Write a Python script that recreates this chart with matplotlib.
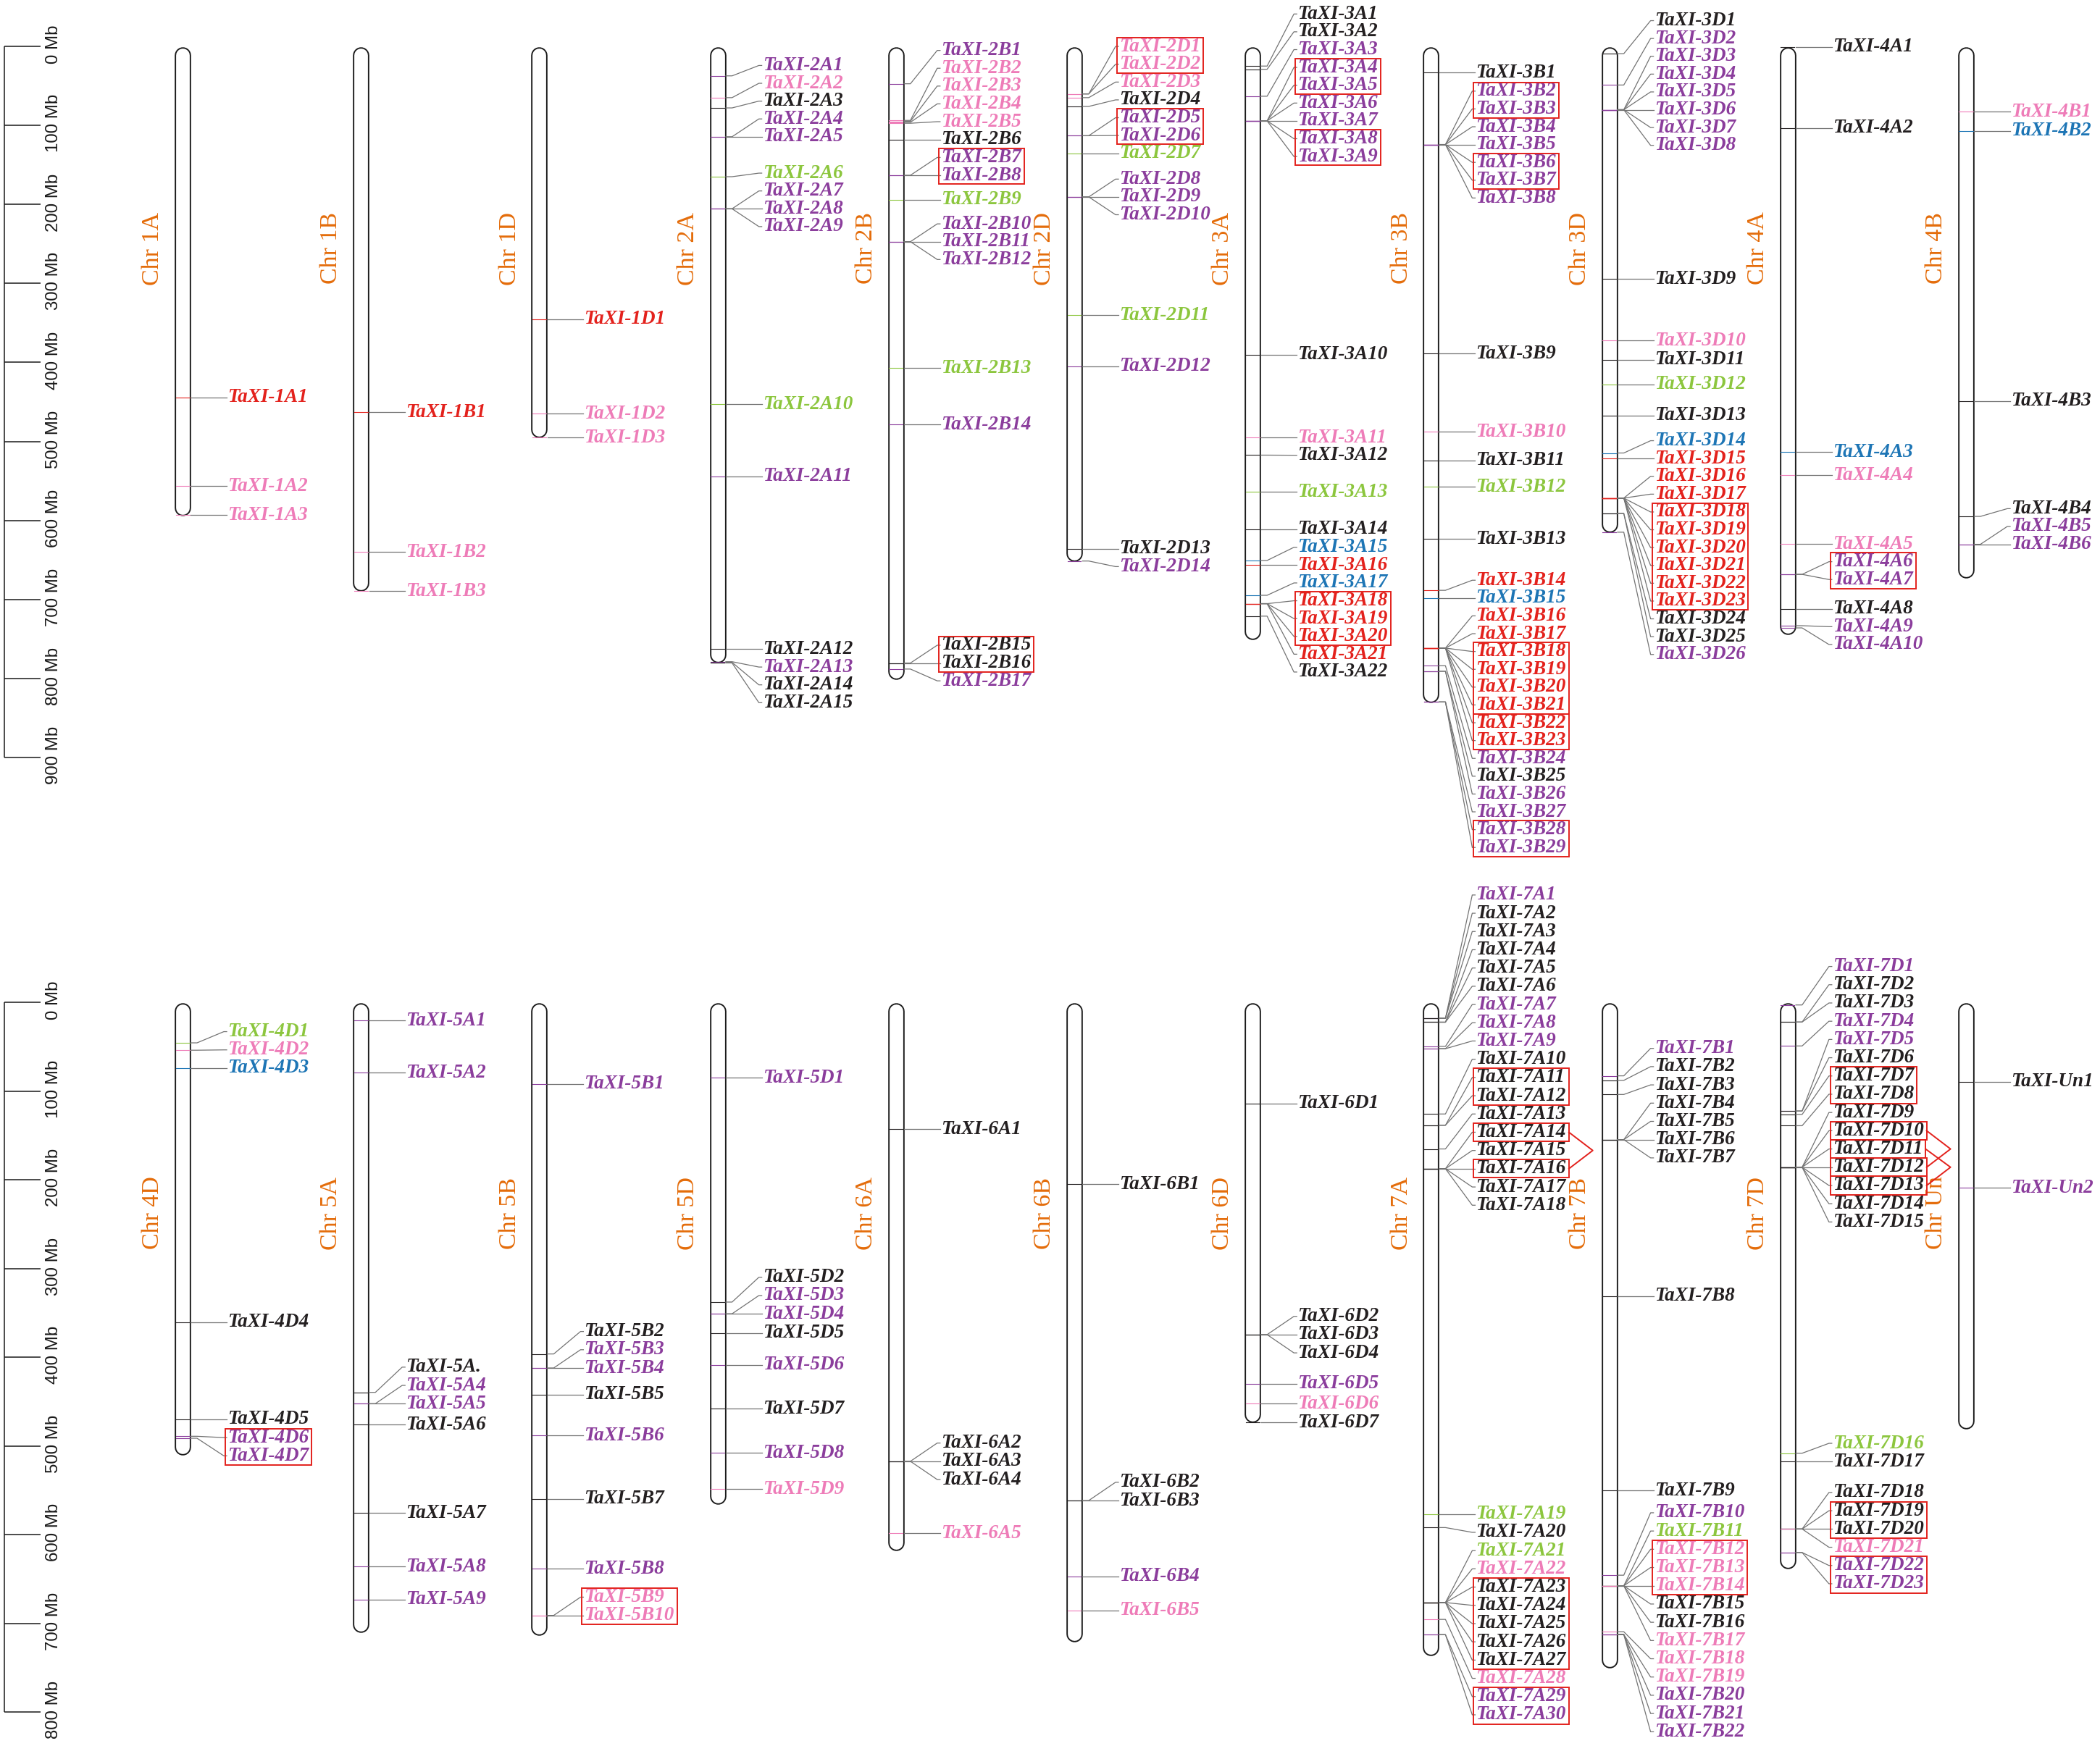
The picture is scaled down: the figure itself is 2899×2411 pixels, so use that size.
import matplotlib
matplotlib.use("Agg")
import matplotlib.pyplot as plt
from matplotlib.patches import Rectangle

# ---------------- chromosomes (Mb) ----------------
top_chr = ["1A", "1B", "1D", "2A", "2B", "2D", "3A", "3B", "3D", "4A", "4B"]
top_len = [594.1, 689.9, 495.5, 780.8, 801.3, 651.9, 750.8, 830.8, 615.6, 744.6, 673.6]
bot_chr = ["4D", "5A", "5B", "5D", "6A", "6B", "6D", "7A", "7B", "7D", "Un"]
bot_len = [509.9, 709.8, 713.1, 566.1, 618.1, 720.9, 473.6, 736.7, 750.6, 638.7, 481.0]
top_ticks = [0, 100, 200, 300, 400, 500, 600, 700, 800, 900]
bot_ticks = [0, 100, 200, 300, 400, 500, 600, 700, 800]

# ---------------- genes: position (Mb) + colour code ----------------
# R red, P pink, U purple, K black, G green, B blue
pos_1A = [444.2, 556.7, 593.5]
col_1A = "RPP"
pos_1B = [462.9, 640.3, 689.4]
col_1B = "RPP"
pos_1D = [345.2, 464.8, 495.0]
col_1D = "RPP"
pos_2A = [37.1, 64.7, 77.7, 114.2, 114.2, 164.8, 205.4, 205.4, 205.4, 453.0, 544.3,
          763.2, 779.0, 779.8, 780.6]
col_2A = "UPKUUGUUUGUKUKK"
pos_2B = [47.1, 93.5, 94.7, 95.9, 97.1, 117.7, 163.0, 163.0, 194.1, 247.1, 247.1, 247.1,
          407.1, 478.9, 780.7, 780.7, 788.3]
col_2B = "UPPPPKUUGUUUGUKKU"
pos_2D = [60.0, 60.0, 64.7, 75.8, 112.9, 112.9, 135.2, 190.4, 190.4, 190.4, 340.3, 405.0,
          636.0, 651.5]
col_2D = "PPPKUUGUUUGUKU"
pos_3A = [24.7, 28.8, 62.9, 94.1, 94.1, 94.1, 94.1, 94.1, 94.1, 390.4, 495.0, 517.4, 563.8,
          611.4, 650.8, 656.7, 694.9, 705.5, 705.5, 705.5, 705.5, 721.3]
col_3A = "KKUUUUUUUKPKGKBRBRRRRK"
pos_3B = [32.8, 124.1, 124.1, 124.1, 124.1, 124.1, 124.1, 124.1, 388.9, 487.9, 524.1, 557.6,
          623.8, 688.6, 698.4, 761.8, 761.8, 761.8, 761.8, 761.8, 761.8, 761.8, 761.8,
          784.1, 791.1, 791.1, 830.0, 830.0, 830.0]
col_3B = "KUUUUUUUKPKGKRBRRRRRRRRUKUUUU"
pos_3D = [9.0, 48.7, 80.0, 80.0, 80.0, 80.0, 80.0, 80.0, 294.2, 372.1, 396.5, 427.8, 467.4,
          514.7, 521.7, 571.8, 571.8, 571.8, 571.8, 571.8, 571.8, 571.8, 571.8,
          591.3, 591.3, 615.0]
col_3D = "KUUUUUUUKPKGKBRRRRRRRRRKKU"
pos_4A = [0.5, 103.0, 513.4, 543.0, 629.8, 668.4, 668.4, 712.1, 733.4, 736.2]
col_4A = "KKBPPUUKUU"
pos_4B = [82.5, 106.6, 449.0, 595.0, 630.3, 630.3]
col_4B = "PBKKUU"
pos_4D = [45.5, 53.8, 74.0, 360.5, 469.9, 489.0, 491.2]
col_4D = "GPBKKUU"
pos_5A = [20.2, 79.0, 439.5, 452.2, 452.2, 475.7, 575.5, 635.7, 673.1]
col_5A = "UUKUUKKUU"
pos_5B = [91.9, 396.2, 412.0, 412.0, 441.8, 488.1, 559.7, 638.3, 690.9, 690.9]
col_5B = "UKUUKUKUPP"
pos_5D = [84.8, 337.7, 350.9, 350.9, 372.6, 408.4, 457.8, 507.7, 548.7]
col_5D = "UKUUKUKUP"
pos_6A = [142.7, 517.2, 517.2, 517.2, 598.2]
col_6A = "KKKKP"
pos_6B = [204.9, 561.4, 561.4, 646.7, 685.3]
col_6B = "KKKUP"
pos_6D = [114.0, 374.4, 374.4, 374.4, 429.6, 452.2, 473.3]
col_6D = "KKKKUPK"
pos_7A = [17.8, 17.8, 17.8, 22.2, 22.2, 22.2, 49.5, 52.1, 52.1, 125.7, 138.4, 138.4, 165.1,
          187.4, 187.4, 187.4, 187.4, 187.4, 576.7, 591.9, 676.4, 676.4, 676.4, 676.4,
          676.4, 676.4, 676.4, 695.4, 712.6, 712.6]
col_7A = "UKKKKKUUUKKKKKKKKKGKGPKKKKKPUU"
pos_7B = [82.7, 87.8, 103.7, 154.6, 154.6, 154.6, 154.6, 330.8, 550.2, 645.6, 657.5, 657.5,
          657.5, 657.5, 657.5, 657.5, 657.5, 709.3, 712.4, 712.4, 712.4, 712.4]
col_7B = "UKKKKKKKKUGPPPKKPPPUUU"
pos_7D = [2.8, 22.0, 22.0, 49.0, 122.3, 122.3, 126.2, 138.9, 185.7, 185.7, 185.7, 185.7,
          185.7, 185.7, 185.7, 508.1, 517.5, 593.5, 593.5, 593.5, 593.5, 620.0, 620.0]
col_7D = "UKKUUKKKKKKKKKKGKKKKPUU"
pos_Un = [89.4, 209.1]
col_Un = "KU"

label_fix = {"5A3": "TaXI-5A."}

boxes = [["2B7", "2B8"], ["2B15", "2B16"], ["2D1", "2D2"], ["2D5", "2D6"],
         ["3A4", "3A5"], ["3A8", "3A9"], ["3A18", "3A19", "3A20"],
         ["3B2", "3B3"], ["3B6", "3B7"], ["3B18", "3B19", "3B20", "3B21"],
         ["3B22", "3B23"], ["3B28", "3B29"],
         ["3D18", "3D19", "3D20", "3D21", "3D22", "3D23"], ["4A6", "4A7"],
         ["4D6", "4D7"], ["5B9", "5B10"], ["7A11", "7A12"], ["7A14"], ["7A16"],
         ["7A23", "7A24", "7A25", "7A26", "7A27"], ["7A29", "7A30"],
         ["7B12", "7B13", "7B14"], ["7D7", "7D8"], ["7D10"], ["7D11"], ["7D12"],
         ["7D13"], ["7D19", "7D20"], ["7D22", "7D23"]]
arrows = [("7A14", "7A16"), ("7D10", "7D12"), ("7D11", "7D13")]

genes = {
    "1A": (pos_1A, col_1A), "1B": (pos_1B, col_1B), "1D": (pos_1D, col_1D),
    "2A": (pos_2A, col_2A), "2B": (pos_2B, col_2B), "2D": (pos_2D, col_2D),
    "3A": (pos_3A, col_3A), "3B": (pos_3B, col_3B), "3D": (pos_3D, col_3D),
    "4A": (pos_4A, col_4A), "4B": (pos_4B, col_4B), "4D": (pos_4D, col_4D),
    "5A": (pos_5A, col_5A), "5B": (pos_5B, col_5B), "5D": (pos_5D, col_5D),
    "6A": (pos_6A, col_6A), "6B": (pos_6B, col_6B), "6D": (pos_6D, col_6D),
    "7A": (pos_7A, col_7A), "7B": (pos_7B, col_7B), "7D": (pos_7D, col_7D),
    "Un": (pos_Un, col_Un),
}

palette = {"R": "#E3211C", "P": "#EE7CB8", "U": "#8B3D9C", "K": "#231F20",
           "G": "#8CC63E", "B": "#1D75B5"}
ORANGE = "#E46C0A"
BOXRED = "#E3211C"


def place_labels(gp, half, s, t):
    """gp: gene positions in px (ascending). Returns label positions in px."""
    n = len(gp)
    blocks = []
    i = 0
    while i < n:
        j = i
        while j + 1 < n and gp[j + 1] == gp[i]:
            j += 1
        blocks.append((i, j))
        i = j + 1
    lab = [0.0] * n
    upper = [b for b in blocks if gp[b[0]] < half]
    lower = [b for b in blocks if gp[b[0]] >= half]
    # upper half: labels pushed upwards
    nxt = float("inf")
    for (i, j) in reversed(upper):
        m = j - i + 1
        for q in range(j, i - 1, -1):
            want = gp[q] + (q - i - m // 2) * s
            lab[q] = min(want, nxt - s)
            nxt = lab[q]
    # lower half: labels pushed downwards, a lone label may step up
    last = lab[upper[-1][1]] if upper else -1e9
    before = lab[upper[-1][1] - 1] if upper and upper[-1][1] > 0 else -1e9
    last_idx, last_own = None, False
    for (i, j) in lower:
        m = j - i + 1
        top = gp[i] - (m // 2) * s
        o = last + s - top
        if o > 0 and last_own and o >= t:
            up = max(0.0, min(o, last - (before + s)))
            lab[last_idx] -= up
            last -= up
            o -= up
        shift = max(o, 0.0)
        for q in range(i, j + 1):
            lab[q] = top + (q - i) * s + shift
        before = lab[j - 1] if m > 1 else last
        last, last_idx = lab[j], j
        last_own = (m == 1 and shift < 1.0)
    return lab


W, H, DPI = 2899, 2411, 100
X0, SP = 252.0, 246.2   # px of first chromosome, px between chromosomes

fig = plt.figure(figsize=(W / DPI, H / DPI), dpi=DPI)

panels = [
    dict(chrs=top_chr, lens=top_len, ticks=top_ticks, y0=0, y1=1195,
         zero=64.3, k=1.0904, s=24.6, chr_y=343),
    dict(chrs=bot_chr, lens=bot_len, ticks=bot_ticks, y0=1195, y1=2411,
         zero=1384.3, k=1.225, s=25.2, chr_y=1675),
]

texts = {}   # gene id -> (text, ax, label y in Mb, spacing in Mb)

for pn in panels:
    k, zero = pn["k"], pn["zero"]
    ax = fig.add_axes([0, 1 - pn["y1"] / H, 1, (pn["y1"] - pn["y0"]) / H])
    ax.set_xlim(-X0 / SP, (W - X0) / SP)
    ax.set_ylim((pn["y1"] - zero) / k, (pn["y0"] - zero) / k)
    ax.axis("off")

    def dx(p):
        return p / SP

    # scale bar
    ticks = pn["ticks"]
    ax.vlines(dx(6 - X0), ticks[0], ticks[-1], color="#1a1a1a", lw=1.1)
    ax.hlines(ticks, dx(6 - X0), dx(56 - X0), color="#1a1a1a", lw=1.1)
    for tk in ticks:
        ax.text(dx(74 - X0), tk - 3 / k, f"{tk} Mb", rotation=90, ha="center",
                va="center", fontsize=17.3, family="Liberation Sans", color="#1a1a1a")

    for ci, name in enumerate(pn["chrs"]):
        L = pn["lens"][ci]
        R = 11.3
        r = R / k
        ax.plot([ci, ci], [r, L - r], color="#1a1a1a", lw=2 * R * 0.72,
                solid_capstyle="round", zorder=2)
        ax.plot([ci, ci], [r, L - r], color="white", lw=2 * (R - 1.9) * 0.72,
                solid_capstyle="round", zorder=2.1)
        ax.text(ci + dx(-41), (pn["chr_y"] - zero) / k, "Chr " + name, rotation=90,
                ha="center", va="center", color=ORANGE, fontsize=24.5,
                family="Liberation Serif")

        pos, col = genes[name]
        lab = place_labels([p * k for p in pos], L * k / 2, pn["s"], 0.4 * pn["s"])
        for j, (p, c) in enumerate(zip(pos, col)):
            color = palette[c]
            ly = lab[j] / k
            ax.plot([ci + dx(-9.5), ci + dx(9.5)], [p, p], color=color, lw=0.8, zorder=3)
            ax.plot([ci + dx(11.3), ci + dx(20), ci + dx(57), ci + dx(61)],
                    [p, p, ly, ly], color="#737373", lw=0.9, zorder=3)
            gid = f"{name}{j + 1}"
            txt = label_fix.get(gid, "TaXI-" + gid)
            t = ax.text(ci + dx(62), ly, txt, color=color, fontsize=19.5,
                        family="Liberation Serif", weight="bold", style="italic",
                        ha="left", va="center", zorder=4)
            texts[gid] = (t, ax, ly, pn["s"] / k)

fig.canvas.draw()
renderer = fig.canvas.get_renderer()

box_right = {}
for grp in boxes:
    items = [texts[g] for g in grp]
    ax = items[0][1]
    inv = ax.transData.inverted()
    exts = [it[0].get_window_extent(renderer) for it in items]
    xl = inv.transform((min(e.x0 for e in exts) - 3, 0))[0]
    xr = inv.transform((max(e.x1 for e in exts) + 4, 0))[0]
    ytop = items[0][2] - items[0][3] / 2
    ybot = items[-1][2] + items[-1][3] / 2
    ax.add_patch(Rectangle((xl, ytop), xr - xl, ybot - ytop, fill=False,
                           edgecolor=BOXRED, lw=1.4, zorder=5))
    for g in grp:
        box_right[g] = xr

for a, b in arrows:
    ta, ax, ya, s_mb = texts[a]
    yb = texts[b][2]
    xa, xb = box_right[a], box_right[b]
    tip = max(xa, xb) + 33 / SP
    ax.plot([xa, tip, xb], [ya, (ya + yb) / 2, yb], color=BOXRED, lw=1.4, zorder=5)

fig.savefig("out.png", dpi=DPI, facecolor="white")
